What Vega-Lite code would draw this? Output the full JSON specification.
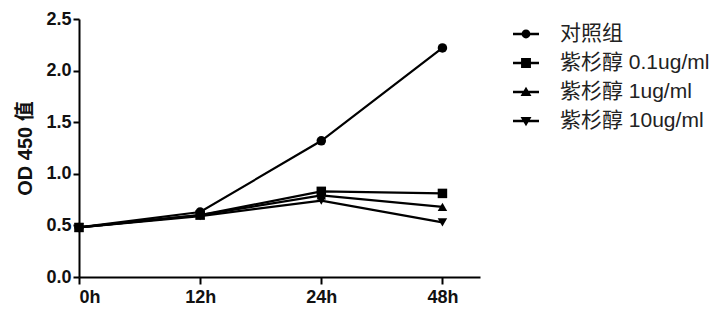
{
  "$schema": "https://vega.github.io/schema/vega-lite/v6.json",
  "width": 401,
  "height": 258,
  "autosize": {"type": "none"},
  "padding": {"left": 79, "top": 19, "right": 241, "bottom": 36},
  "background": "white",
  "config": {
    "view": {"stroke": null},
    "axis": {
      "domainColor": "black",
      "domainWidth": 2,
      "tickColor": "black",
      "tickWidth": 2,
      "grid": false,
      "labelFont": "Liberation Sans",
      "labelFontWeight": "bold",
      "labelFontSize": 18,
      "labelColor": "#111",
      "titleFont": "Liberation Sans, Noto Sans CJK SC",
      "titleFontWeight": "bold",
      "titleFontSize": 20,
      "titleColor": "#111"
    }
  },
  "data": {
    "values": [
      {"group": "对照组", "time": "0h", "idx": 0, "od": 0.48},
      {"group": "对照组", "time": "12h", "idx": 1, "od": 0.63},
      {"group": "对照组", "time": "24h", "idx": 2, "od": 1.32},
      {"group": "对照组", "time": "48h", "idx": 3, "od": 2.22},
      {"group": "紫杉醇 0.1ug/ml", "time": "0h", "idx": 0, "od": 0.48},
      {"group": "紫杉醇 0.1ug/ml", "time": "12h", "idx": 1, "od": 0.6},
      {"group": "紫杉醇 0.1ug/ml", "time": "24h", "idx": 2, "od": 0.83},
      {"group": "紫杉醇 0.1ug/ml", "time": "48h", "idx": 3, "od": 0.81},
      {"group": "紫杉醇 1ug/ml", "time": "0h", "idx": 0, "od": 0.48},
      {"group": "紫杉醇 1ug/ml", "time": "12h", "idx": 1, "od": 0.6},
      {"group": "紫杉醇 1ug/ml", "time": "24h", "idx": 2, "od": 0.79},
      {"group": "紫杉醇 1ug/ml", "time": "48h", "idx": 3, "od": 0.68},
      {"group": "紫杉醇 10ug/ml", "time": "0h", "idx": 0, "od": 0.48},
      {"group": "紫杉醇 10ug/ml", "time": "12h", "idx": 1, "od": 0.59},
      {"group": "紫杉醇 10ug/ml", "time": "24h", "idx": 2, "od": 0.74},
      {"group": "紫杉醇 10ug/ml", "time": "48h", "idx": 3, "od": 0.53}
    ]
  },
  "encoding": {
    "x": {
      "field": "idx",
      "type": "quantitative",
      "scale": {"domain": [0, 3.31], "nice": false, "zero": false},
      "axis": {
        "values": [0, 1, 2, 3],
        "labelExpr": "['0h','12h','24h','48h'][datum.value]",
        "title": null,
        "tickSize": 7,
        "labelPadding": 4
      }
    },
    "y": {
      "field": "od",
      "type": "quantitative",
      "scale": {"domain": [0, 2.5], "nice": false},
      "axis": {
        "values": [0, 0.5, 1, 1.5, 2, 2.5],
        "format": ".1f",
        "title": "OD 450 值",
        "tickSize": 6,
        "labelPadding": 2,
        "titlePadding": 10
      }
    }
  },
  "layer": [
    {
      "mark": {"type": "line", "color": "black", "strokeWidth": 2.2},
      "encoding": {"detail": {"field": "group"}}
    },
    {
      "mark": {"type": "point", "filled": true, "color": "black", "opacity": 1, "size": 90},
      "encoding": {
        "shape": {
          "field": "group",
          "scale": {
            "domain": ["对照组", "紫杉醇 0.1ug/ml", "紫杉醇 1ug/ml", "紫杉醇 10ug/ml"],
            "range": ["circle", "square", "triangle-up", "triangle-down"]
          },
          "legend": null
        }
      }
    },
    {
      "mark": {"type": "point", "filled": true, "color": "black", "opacity": 0},
      "encoding": {
        "shape": {
          "field": "group",
          "scale": {
            "domain": ["对照组", "紫杉醇 0.1ug/ml", "紫杉醇 1ug/ml", "紫杉醇 10ug/ml"],
            "range": [
              "M-1,-0.1H1V0.1H-1Z M0.34,0A0.34,0.34 0 1,1 -0.34,0A0.34,0.34 0 1,1 0.34,0Z",
              "M-1,-0.1H1V0.1H-1Z M-0.38,-0.38H0.38V0.38H-0.38Z",
              "M-1,-0.1H1V0.1H-1Z M0,-0.4L0.42,0.3H-0.42Z",
              "M-1,-0.1H1V0.1H-1Z M0,0.4L-0.42,-0.3H0.42Z"
            ]
          },
          "legend": {
            "title": null,
            "orient": "none",
            "legendX": 433,
            "legendY": 1,
            "symbolSize": 676,
            "labelFont": "Liberation Sans, Noto Sans CJK SC",
            "labelFontSize": 21,
            "labelColor": "#222",
            "labelOffset": 20,
            "labelLimit": 300,
            "rowPadding": 5,
            "encode": {
              "symbols": {
                "update": {
                  "opacity": {"value": 1},
                  "fill": {"value": "black"},
                  "fillOpacity": {"value": 1},
                  "strokeWidth": {"value": 0}
                }
              }
            }
          }
        }
      }
    }
  ],
  "resolve": {"scale": {"shape": "independent"}}
}
